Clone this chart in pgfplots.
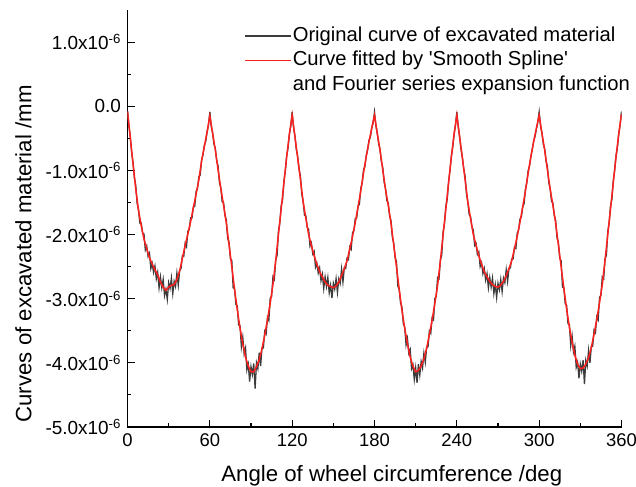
\documentclass[border=0pt]{standalone}
\usepackage{fontspec}
\setmainfont{Liberation Sans}
\usepackage{pgfplots}
\pgfplotsset{compat=1.18}
\definecolor{origgray}{RGB}{60,60,60}
\definecolor{fitred}{RGB}{255,32,32}
\begin{document}
\begin{tikzpicture}
\path[use as bounding box] (-127.5bp,-60bp) rectangle (508.5bp,427bp);
\begin{axis}[
  at={(0,0)}, anchor=south west,
  scale only axis, width=494bp, height=417bp,
  xmin=0, xmax=360, ymin=-5, ymax=1.5,
  axis lines=left,
  axis line style={-, line width=1.2bp, black},
  tick align=inside,
  xtick={0,60,...,360}, minor x tick num=1,
  ytick={-5,-4,-3,-2,-1,0,1}, minor y tick num=1,
  major tick length=7bp, minor tick length=4bp,
  every tick/.style={black, line width=1.1bp},
  yticklabels={-5.0x10\textsuperscript{-6},-4.0x10\textsuperscript{-6},-3.0x10\textsuperscript{-6},-2.0x10\textsuperscript{-6},-1.0x10\textsuperscript{-6},0.0,1.0x10\textsuperscript{-6}},
  /pgf/number format/assume math mode=true,
  xticklabel style={font=\fontsize{18.5}{21}\selectfont, yshift=-3bp},
  yticklabel style={font=\fontsize{19}{22}\selectfont, xshift=-3bp},
  every axis x label/.style={at={(rel axis cs:0.535,0)}, anchor=base, yshift=-54bp, font=\fontsize{22.3}{26}\selectfont},
  every axis y label/.style={at={([xshift=-96bp]rel axis cs:0,0.415)}, rotate=90, anchor=base, font=\fontsize{22.3}{26}\selectfont},
  xlabel={Angle of wheel circumference /deg},
  ylabel={Curves of excavated material /mm},
  legend style={at={(rel axis cs:0.236,0.964)}, anchor=north west, draw=none, fill=none,
    font=\fontsize{20.3}{24}\selectfont, row sep=3bp, inner sep=0pt,
    nodes={inner sep=1bp, text height=15bp, text depth=4.5bp}},
  legend cell align=left,
  legend image code/.code={\draw[#1] (0bp,0bp) -- (46bp,0bp);},
]
\addplot[origgray, line width=1.3bp] coordinates {
(0,-0.07) (1,-0.30) (2,-0.47) (3,-0.72) (4,-0.87) (5,-1.11) (6,-1.23) (7,-1.51) (8,-1.61) (9,-1.82)
(10,-1.82) (11,-1.98) (12,-1.99) (13,-2.24) (14,-2.18) (15,-2.34) (16,-2.29) (17,-2.53) (18,-2.45) (19,-2.59)
(20,-2.49) (21,-2.69) (22,-2.59) (23,-2.83) (24,-2.66) (25,-2.83) (26,-2.70) (27,-2.95) (28,-2.85) (29,-3.01)
(30,-2.75) (31,-2.84) (32,-2.68) (33,-2.92) (34,-2.73) (35,-2.81) (36,-2.60) (37,-2.79) (38,-2.56) (39,-2.53)
(40,-2.33) (41,-2.34) (42,-2.14) (43,-2.19) (44,-1.95) (45,-1.92) (46,-1.74) (47,-1.74) (48,-1.57) (49,-1.56)
(50,-1.33) (51,-1.28) (52,-1.10) (53,-1.07) (54,-0.84) (55,-0.76) (56,-0.61) (57,-0.55) (58,-0.40) (59,-0.30)
(60,-0.09) (61,-0.31) (62,-0.41) (63,-0.59) (64,-0.66) (65,-0.85) (66,-0.93) (67,-1.19) (68,-1.27) (69,-1.49)
(70,-1.50) (71,-1.70) (72,-1.77) (73,-2.06) (74,-2.12) (75,-2.38) (76,-2.40) (77,-2.83) (78,-2.84) (79,-3.09)
(80,-3.11) (81,-3.41) (82,-3.42) (83,-3.75) (84,-3.60) (85,-3.86) (86,-3.77) (87,-4.11) (88,-4.02) (89,-4.29)
(90,-4.06) (91,-4.18) (92,-4.01) (93,-4.40) (94,-4.00) (95,-4.09) (96,-3.84) (97,-4.05) (98,-3.77) (99,-3.77)
(100,-3.51) (101,-3.55) (102,-3.29) (103,-3.34) (104,-2.99) (105,-2.97) (106,-2.66) (107,-2.70) (108,-2.39) (109,-2.33)
(110,-1.95) (111,-1.82) (112,-1.55) (113,-1.46) (114,-1.17) (115,-1.01) (116,-0.77) (117,-0.65) (118,-0.43) (119,-0.31)
(120,-0.09) (121,-0.33) (122,-0.46) (123,-0.67) (124,-0.78) (125,-0.98) (126,-1.08) (127,-1.37) (128,-1.48) (129,-1.70)
(130,-1.71) (131,-1.89) (132,-1.92) (133,-2.18) (134,-2.13) (135,-2.30) (136,-2.26) (137,-2.51) (138,-2.45) (139,-2.60)
(140,-2.52) (141,-2.72) (142,-2.62) (143,-2.84) (144,-2.66) (145,-2.81) (146,-2.67) (147,-2.91) (148,-2.79) (149,-2.99)
(150,-2.76) (151,-2.85) (152,-2.69) (153,-2.90) (154,-2.69) (155,-2.76) (156,-2.54) (157,-2.74) (158,-2.52) (159,-2.53)
(160,-2.37) (161,-2.39) (162,-2.19) (163,-2.23) (164,-1.97) (165,-1.94) (166,-1.75) (167,-1.74) (168,-1.56) (169,-1.53)
(170,-1.28) (171,-1.20) (172,-0.99) (173,-0.94) (174,-0.77) (175,-0.68) (176,-0.53) (177,-0.48) (178,-0.34) (179,-0.26)
(180,-0.09) (181,-0.30) (182,-0.42) (183,-0.58) (184,-0.67) (185,-0.86) (186,-0.95) (187,-1.18) (188,-1.28) (189,-1.47)
(190,-1.51) (191,-1.71) (192,-1.78) (193,-2.04) (194,-2.13) (195,-2.36) (196,-2.42) (197,-2.80) (198,-2.86) (199,-3.07)
(200,-3.13) (201,-3.39) (202,-3.44) (203,-3.72) (204,-3.62) (205,-3.85) (206,-3.79) (207,-4.09) (208,-4.03) (209,-4.26)
(210,-4.08) (211,-4.31) (212,-4.02) (213,-4.19) (214,-3.98) (215,-4.08) (216,-3.85) (217,-3.99) (218,-3.76) (219,-3.75)
(220,-3.50) (221,-3.54) (222,-3.30) (223,-3.33) (224,-3.00) (225,-2.96) (226,-2.67) (227,-2.69) (228,-2.40) (229,-2.32)
(230,-1.96) (231,-1.83) (232,-1.56) (233,-1.45) (234,-1.18) (235,-1.00) (236,-0.78) (237,-0.64) (238,-0.44) (239,-0.30)
(240,-0.09) (241,-0.32) (242,-0.47) (243,-0.66) (244,-0.79) (245,-0.97) (246,-1.09) (247,-1.36) (248,-1.49) (249,-1.69)
(250,-1.72) (251,-1.88) (252,-1.93) (253,-2.17) (254,-2.14) (255,-2.31) (256,-2.27) (257,-2.50) (258,-2.44) (259,-2.61)
(260,-2.53) (261,-2.71) (262,-2.61) (263,-2.83) (264,-2.67) (265,-2.82) (266,-2.68) (267,-2.92) (268,-2.78) (269,-2.98)
(270,-2.76) (271,-2.86) (272,-2.70) (273,-2.89) (274,-2.68) (275,-2.75) (276,-2.55) (277,-2.73) (278,-2.53) (279,-2.52)
(280,-2.38) (281,-2.38) (282,-2.20) (283,-2.22) (284,-1.98) (285,-1.93) (286,-1.76) (287,-1.73) (288,-1.57) (289,-1.52)
(290,-1.29) (291,-1.19) (292,-1.00) (293,-0.93) (294,-0.78) (295,-0.67) (296,-0.54) (297,-0.47) (298,-0.35) (299,-0.25)
(300,-0.09) (301,-0.31) (302,-0.41) (303,-0.59) (304,-0.66) (305,-0.85) (306,-0.94) (307,-1.19) (308,-1.28) (309,-1.48)
(310,-1.51) (311,-1.70) (312,-1.78) (313,-2.05) (314,-2.12) (315,-2.37) (316,-2.41) (317,-2.82) (318,-2.83) (319,-3.08)
(320,-3.10) (321,-3.39) (322,-3.40) (323,-3.73) (324,-3.58) (325,-3.83) (326,-3.74) (327,-4.07) (328,-3.99) (329,-4.24)
(330,-4.02) (331,-4.13) (332,-3.96) (333,-4.33) (334,-3.96) (335,-4.05) (336,-3.81) (337,-4.00) (338,-3.75) (339,-3.74)
(340,-3.49) (341,-3.53) (342,-3.28) (343,-3.33) (344,-2.98) (345,-2.95) (346,-2.66) (347,-2.69) (348,-2.38) (349,-2.32)
(350,-1.95) (351,-1.82) (352,-1.55) (353,-1.45) (354,-1.17) (355,-1.00) (356,-0.77) (357,-0.65) (358,-0.43) (359,-0.29)
(360,-0.08)
};
\addlegendentry{Original curve of excavated material}
\addplot[fitred, line width=1.5bp] coordinates {
(0,-0.08) (2,-0.48) (4,-0.89) (6,-1.29) (8,-1.62) (10,-1.86) (12,-2.07) (14,-2.22) (16,-2.36) (18,-2.46)
(20,-2.55) (22,-2.63) (24,-2.74) (26,-2.82) (28,-2.87) (30,-2.82) (32,-2.79) (34,-2.78) (36,-2.70) (38,-2.57)
(40,-2.37) (42,-2.17) (44,-1.99) (46,-1.80) (48,-1.58) (50,-1.37) (52,-1.15) (54,-0.85) (56,-0.63) (58,-0.40)
(60,-0.15) (62,-0.42) (64,-0.68) (66,-0.99) (68,-1.28) (70,-1.54) (72,-1.82) (74,-2.16) (76,-2.50) (78,-2.85)
(80,-3.17) (82,-3.46) (84,-3.70) (86,-3.91) (88,-4.05) (90,-4.14) (92,-4.14) (94,-4.06) (96,-3.95) (98,-3.78)
(100,-3.57) (102,-3.33) (104,-3.07) (106,-2.78) (108,-2.41) (110,-2.00) (112,-1.60) (114,-1.19) (116,-0.79) (118,-0.43)
(120,-0.14) (122,-0.47) (124,-0.80) (126,-1.14) (128,-1.49) (130,-1.75) (132,-2.00) (134,-2.17) (136,-2.33) (138,-2.46)
(140,-2.58) (142,-2.66) (144,-2.74) (146,-2.79) (148,-2.81) (150,-2.83) (152,-2.80) (154,-2.74) (156,-2.64) (158,-2.53)
(160,-2.41) (162,-2.22) (164,-2.03) (166,-1.81) (168,-1.57) (170,-1.32) (172,-1.04) (174,-0.78) (176,-0.55) (178,-0.34)
(180,-0.14) (182,-0.42) (184,-0.68) (186,-0.99) (188,-1.29) (190,-1.54) (192,-1.82) (194,-2.16) (196,-2.50) (198,-2.85)
(200,-3.18) (202,-3.46) (204,-3.70) (206,-3.91) (208,-4.05) (210,-4.14) (212,-4.12) (214,-4.05) (216,-3.94) (218,-3.77)
(220,-3.56) (222,-3.33) (224,-3.07) (226,-2.79) (228,-2.41) (230,-2.00) (232,-1.60) (234,-1.19) (236,-0.79) (238,-0.43)
(240,-0.14) (242,-0.47) (244,-0.80) (246,-1.14) (248,-1.49) (250,-1.75) (252,-2.00) (254,-2.17) (256,-2.33) (258,-2.46)
(260,-2.58) (262,-2.66) (264,-2.73) (266,-2.78) (268,-2.81) (270,-2.82) (272,-2.79) (274,-2.73) (276,-2.64) (278,-2.53)
(280,-2.41) (282,-2.22) (284,-2.03) (286,-1.81) (288,-1.57) (290,-1.32) (292,-1.04) (294,-0.78) (296,-0.55) (298,-0.34)
(300,-0.14) (302,-0.42) (304,-0.68) (306,-0.99) (308,-1.29) (310,-1.54) (312,-1.82) (314,-2.16) (316,-2.50) (318,-2.84)
(320,-3.16) (322,-3.44) (324,-3.68) (326,-3.88) (328,-4.02) (330,-4.09) (332,-4.08) (334,-4.02) (336,-3.92) (338,-3.76)
(340,-3.55) (342,-3.32) (344,-3.06) (346,-2.78) (348,-2.40) (350,-2.00) (352,-1.60) (354,-1.19) (356,-0.79) (358,-0.43)
(360,-0.12)
};
\addlegendentry{Curve fitted by \textquotesingle Smooth Spline\textquotesingle}
\addlegendimage{empty legend}
\addlegendentry{and Fourier series expansion function}
\end{axis}
\end{tikzpicture}
\end{document}
